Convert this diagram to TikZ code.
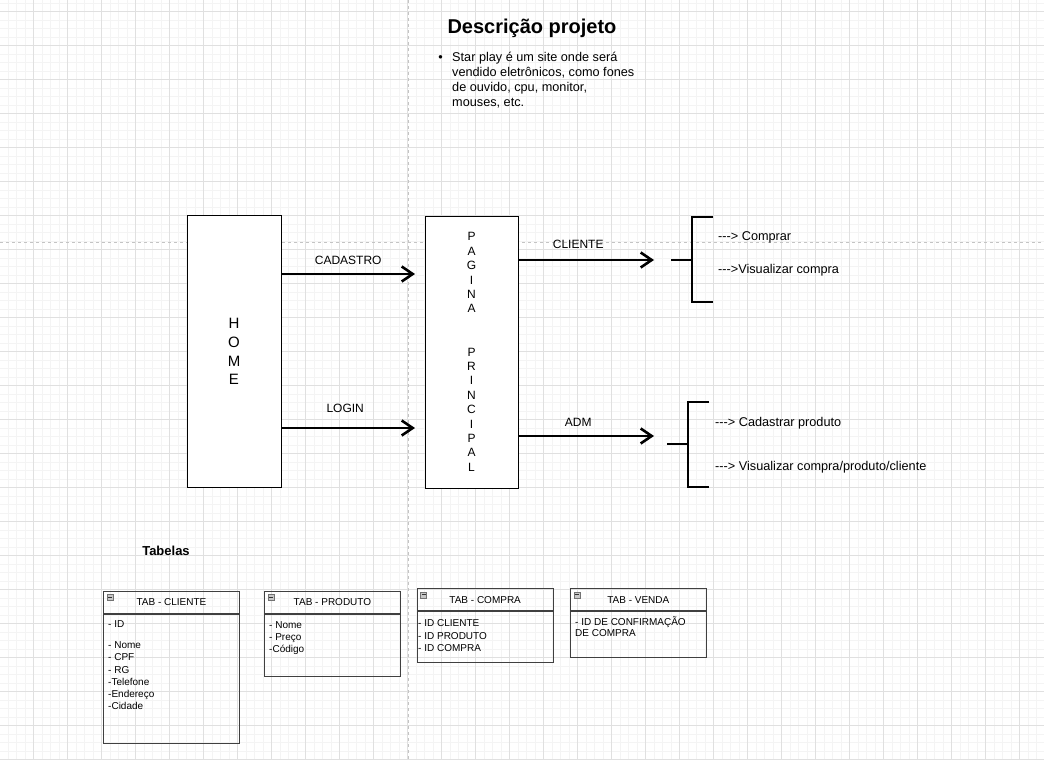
\documentclass[tikz,border=0pt]{standalone}
\usepackage{fontspec}
\setmainfont{Liberation Sans}
\usetikzlibrary{arrows.meta,positioning}
\definecolor{gridminor}{HTML}{F4F4F4}
\definecolor{gridmajor}{HTML}{E0E0E0}
\definecolor{pageline}{HTML}{C4C4C4}
\definecolor{tabline}{HTML}{404040}
\newcommand{\dsh}{\mbox{-}}
\tikzset{
  bigbox/.style={draw, fill=white, line width=0.8pt, minimum width=94pt, minimum height=272pt, inner sep=0pt, align=center},
  flow arrow/.style={line width=2.6pt, -{Straight Barb[length=11pt,width=15pt]}},
  flow label/.style={font=\fontsize{12}{14}\selectfont, inner sep=0pt},
  bracket/.style={line width=1.8pt},
  side text/.style={font=\fontsize{12.7}{15}\selectfont, inner sep=0pt, anchor=base west},
  tab head/.style={draw=tabline, line width=0.9pt, minimum width=136pt, minimum height=22pt, inner sep=0pt, font=\fontsize{10}{12}\selectfont, anchor=north west},
  tab body/.style={draw=tabline, line width=0.9pt, minimum width=136pt, inner sep=0pt, anchor=north},
  tab text/.style={font=\fontsize{10}{12.2}\selectfont, inner sep=0pt, align=left, anchor=base west},
  minus icon/.style={draw=black!55, fill=black!22, line width=0.5pt, minimum size=6pt, inner sep=0pt,
    path picture={\draw[black!80, line width=0.8pt] ([xshift=1.1pt]path picture bounding box.west) -- ([xshift=-1.1pt]path picture bounding box.east);}},
}

\begin{document}
\begin{tikzpicture}[x=1pt,y=-1pt]
                \useasboundingbox (0,0) rectangle (1044,760);
                \fill[white] (0,0) rectangle (1044,760);
                \begin{scope}
                  \clip (0,0) rectangle (1044,760);
                  \begin{scope}[shift={(-0.7pt,-11.7pt)}]
                    \draw[gridminor, line width=0.5pt] (0pt,-775pt) grid[step=8.5pt] (1050pt,12pt);
                    \draw[gridmajor, line width=0.6pt] (0pt,-775pt) grid[step=34pt] (1050pt,12pt);
                  \end{scope}
                  \draw[pageline, line width=0.8pt, dash pattern=on 3pt off 3pt] (408,0) -- (408,760) (0,242) -- (1044,242);
                \end{scope}
                % descricao
                \node[font=\bfseries\fontsize{20}{24}\selectfont] (title) at (532,28) {Descrição projeto};
                \node[anchor=base, inner sep=0pt, font=\fontsize{12.7}{15}\selectfont] (bul) at (440.7,61.6) {\textbullet};
                \node[anchor=base west, align=left, inner sep=0pt, font=\fontsize{12.7}{15}\selectfont] (desc) at (452,106.6)
                  {Star play é um site onde será\\vendido eletrônicos, como fones\\de ouvido, cpu, monitor,\\mouses, etc.};
                % fluxo
                \node[bigbox, font=\fontsize{15}{18.7}\selectfont] (home) at (234,351.5) {H\\O\\M\\E};
                \node[bigbox, minimum width=93pt, font=\fontsize{12}{14.4}\selectfont] (pag) at (471.5,352)
                  {P\\A\\G\\I\\N\\A\\[28.8pt]P\\R\\I\\N\\C\\I\\P\\A\\L};
                \coordinate (cadEnd) at (415,274);
                \coordinate (logEnd) at (415,428);
                \coordinate (cliEnd) at (654,260);
                \coordinate (admEnd) at (654,436);
                \draw[flow arrow] (home.east |- cadEnd) -- (cadEnd) node[flow label, midway, yshift=14pt] {CADASTRO};
                \draw[flow arrow] (home.east |- logEnd) -- (logEnd) node[flow label, midway, xshift=-3pt, yshift=20pt] {LOGIN};
                \draw[flow arrow] (pag.east |- cliEnd) -- (cliEnd) node[flow label, midway, xshift=-8pt, yshift=16pt] {CLIENTE};
                \draw[flow arrow] (pag.east |- admEnd) -- (admEnd) node[flow label, midway, xshift=-8pt, yshift=14pt] {ADM};
                \coordinate (cliBr) at (692,260);
                \coordinate (admBr) at (688,444);
                \draw[bracket] ([xshift=-21pt]cliBr) -- (cliBr) ([yshift=43pt]cliBr) ++(21,0) -- ++(-21,0) -- ++(0,85) -- ++(21,0);
                \draw[bracket] ([xshift=-21pt]admBr) -- (admBr) ([yshift=42pt]admBr) ++(21,0) -- ++(-21,0) -- ++(0,85) -- ++(21,0);
                \node[side text] (buy) at (718,240.5) {\dsh\dsh\dsh> Comprar};
                \node[side text] (view) at (718,273.5) {\dsh\dsh\dsh>Visualizar compra};
                \node[side text] (addp) at (715,426.5) {\dsh\dsh\dsh> Cadastrar produto};
                \node[side text] (viewall) at (715,470.5) {\dsh\dsh\dsh> Visualizar compra/produto/cliente};
                % tabelas
                \node[font=\bfseries\fontsize{13}{15}\selectfont] (tabs) at (166,551) {Tabelas};
                \node[tab head] (cliH) at (103,591) {TAB - CLIENTE};
                \node[tab body, minimum height=129pt] (cliB) at (cliH.south) {};
                \node[minus icon] (cliI) at ([xshift=7pt,yshift=-6.5pt]cliH.north west) {};
                \node[tab text] (cliT1) at (108,627.6) {- ID};
                \node[tab text] (cliT2) at (108,709.6) {- Nome\\- CPF\\- RG\\-Telefone\\-Endereço\\-Cidade};
                \node[tab head] (proH) at (264,590.7) {TAB - PRODUTO};
                \node[tab body, minimum height=62.3pt] (proB) at (proH.south) {};
                \node[minus icon] (proI) at ([xshift=7pt,yshift=-6.5pt]proH.north west) {};
                \node[tab text, font=\fontsize{10}{11.7}\selectfont] (proT) at (269,652) {- Nome\\- Preço\\-Código};
                \node[tab head] (comH) at (416.7,588.3) {TAB - COMPRA};
                \node[tab body, minimum height=50.4pt] (comB) at (comH.south) {};
                \node[minus icon] (comI) at ([xshift=7pt,yshift=-6.5pt]comH.north west) {};
                \node[tab text, font=\fontsize{10}{12.5}\selectfont] (comT) at (418,651.9) {- ID CLIENTE\\- ID PRODUTO\\- ID COMPRA};
                \node[tab head, minimum width=135.7pt] (venH) at (570,588.3) {TAB - VENDA};
                \node[tab body, minimum width=135.7pt, minimum height=45.7pt] (venB) at (venH.south) {};
                \node[minus icon] (venI) at ([xshift=7pt,yshift=-6.5pt]venH.north west) {};
                \node[tab text, font=\fontsize{10}{11.5}\selectfont] (venT) at (575,636.8) {- ID DE CONFIRMAÇÃO\\DE COMPRA};
\end{tikzpicture}
\end{document}
